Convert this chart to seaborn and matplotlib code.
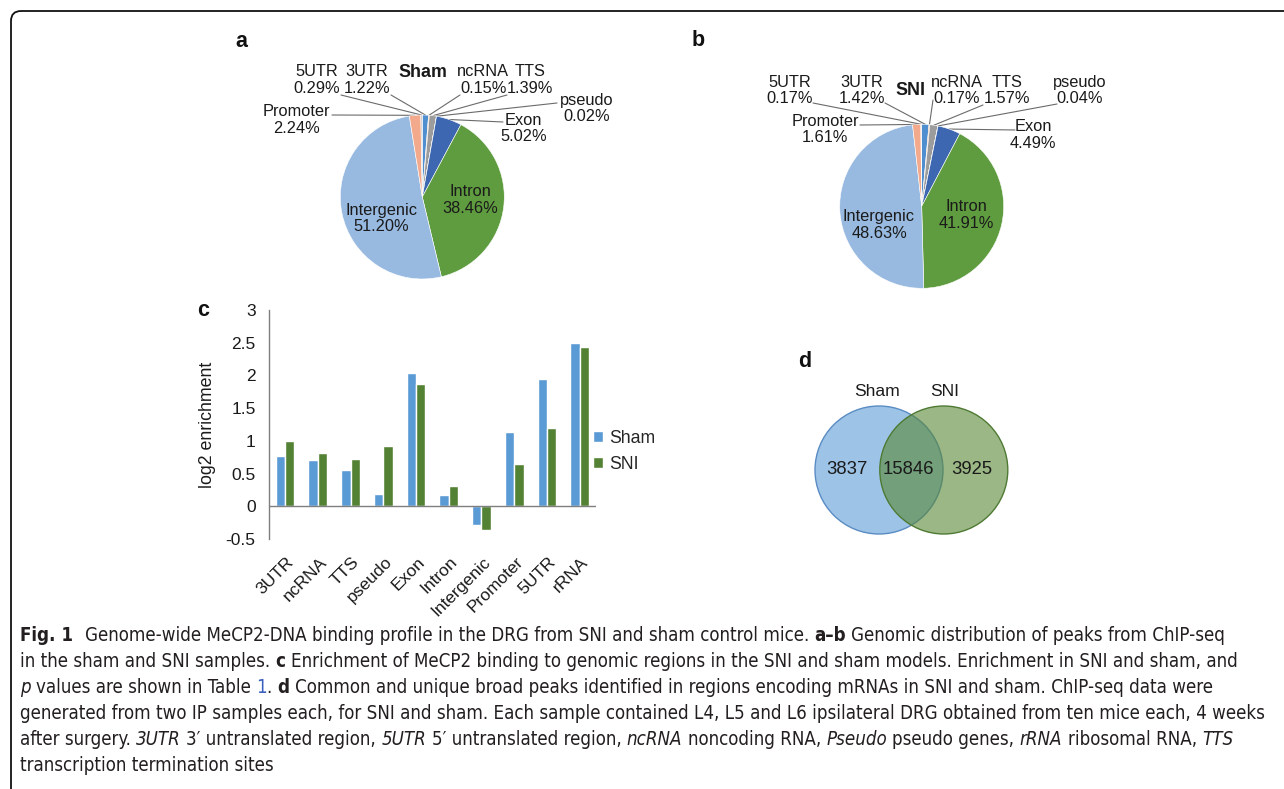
import numpy as np
import pandas as pd
import matplotlib
matplotlib.use("Agg")
import matplotlib.pyplot as plt
import matplotlib.transforms as mtransforms
from matplotlib.patches import Circle, FancyBboxPatch
from matplotlib.ticker import FuncFormatter
import seaborn as sns

W, H = 1284, 789

# ---- data ----
# pie slices, clockwise from 12 o'clock
pie_regions = ["3UTR", "ncRNA", "TTS", "pseudo", "Exon", "Intron", "Intergenic", "Promoter", "5UTR"]
sham_pct = [1.22, 0.15, 1.39, 0.02, 5.02, 38.46, 51.20, 2.24, 0.29]
sni_pct = [1.42, 0.17, 1.57, 0.04, 4.49, 41.91, 48.63, 1.61, 0.17]
pie_colors = ["#4f8fcf", "#ed7d31", "#9c9c9c", "#ffc000", "#3d67b1",
              "#5f9c3f", "#98bae0", "#f2a98c", "#c9c9c9"]

# log2 enrichment
bar_regions = ["3UTR", "ncRNA", "TTS", "pseudo", "Exon", "Intron",
               "Intergenic", "Promoter", "5UTR", "rRNA"]
sham_enrich = [0.77, 0.70, 0.55, 0.19, 2.04, 0.17, -0.28, 1.13, 1.95, 2.49]
sni_enrich = [1.00, 0.81, 0.72, 0.92, 1.87, 0.31, -0.37, 0.64, 1.19, 2.43]
groups = ["Sham", "SNI"]
bar_colors = ["#5b9bd5", "#548235"]

# venn: sham only, common, sni only
venn_counts = [3837, 15846, 3925]

sns.set_style("white")
plt.rcParams["font.family"] = ["Liberation Sans", "DejaVu Sans"]
txt_col = "#1a1a1a"

fig = plt.figure(figsize=(W / 100, H / 100), dpi=100)

# background axes in pixel units (frame, letters, venn, caption)
bg = fig.add_axes([0, 0, 1, 1])
bg.set_xlim(0, W)
bg.set_ylim(H, 0)
bg.axis("off")

bg.add_patch(FancyBboxPatch((11, 11), 1400, 900, boxstyle="round,pad=0,rounding_size=10",
                            fill=False, edgecolor="#111111", linewidth=1.3))

for letter, (lx, ly) in {"a": (241.7, 41.7), "b": (698.3, 40), "c": (203, 310),
                         "d": (805, 361.7)}.items():
    bg.text(lx, ly, letter, fontsize=15.5, fontweight="bold", ha="center", va="center", color="#111111")


# ---- pies ----
def draw_pie(values, cx, cy, r, title, title_xy, label_xy, leader_start):
    ax = fig.add_axes([(cx - r) / W, 1 - (cy + r) / H, 2 * r / W, 2 * r / H])
    wedges, _ = ax.pie(values, colors=pie_colors, startangle=90, counterclock=False,
                       radius=1, wedgeprops=dict(edgecolor="white", linewidth=0.4))
    ax.set_xlim(-1, 1)
    ax.set_ylim(-1, 1)
    ax.axis("off")

    def to_data(px, py):
        return (px - cx) / r, -(py - cy) / r

    for name, val, w in zip(pie_regions, values, wedges):
        tx, ty = to_data(*label_xy[name])
        ax.text(tx, ty, f"{name}\n{val:.2f}%", ha="center", va="center", fontsize=11.8,
                linespacing=1.12, color=txt_col, clip_on=False)
        if name in leader_start:
            th = np.deg2rad((w.theta1 + w.theta2) / 2)
            sx, sy = to_data(*leader_start[name])
            ax.plot([sx, np.cos(th)], [sy, np.sin(th)], color="#6b6b6b", lw=0.8,
                    clip_on=False, zorder=0)
    tx, ty = to_data(*title_xy)
    ax.text(tx, ty, title, ha="center", va="center", fontsize=12.9, fontweight="bold",
            color=txt_col, clip_on=False)


draw_pie(sham_pct, 422.3, 197, 82, "Sham", (423.3, 72.7),
         {"5UTR": (316.7, 80), "3UTR": (366.7, 80), "ncRNA": (483.3, 80), "TTS": (530, 80),
          "pseudo": (586.7, 108.3), "Promoter": (296.7, 120), "Exon": (523.3, 128.3),
          "Intron": (470, 200), "Intergenic": (381.7, 218.3)},
         {"5UTR": (341, 95), "3UTR": (391, 95), "Promoter": (332, 115), "ncRNA": (460, 95),
          "TTS": (507, 95), "pseudo": (557, 103), "Exon": (503, 122)})

draw_pie(sni_pct, 921.7, 206.3, 82, "SNI", (910, 90),
         {"5UTR": (789.3, 90.7), "3UTR": (861.7, 90.7), "ncRNA": (956.7, 90.7),
          "TTS": (1006.7, 90.7), "pseudo": (1080, 90.7), "Promoter": (825, 129.3),
          "Exon": (1033.3, 135), "Intron": (966, 215), "Intergenic": (879, 225)},
         {"5UTR": (813, 103), "3UTR": (885, 103), "Promoter": (860, 125), "ncRNA": (933, 100),
          "TTS": (983, 105), "pseudo": (1057, 104), "Exon": (1015, 130)})

# ---- bar chart ----
left, right, top, bottom = 268.7, 596, 310, 539
ax_c = fig.add_axes([left / W, 1 - bottom / H, (right - left) / W, (bottom - top) / H])
ax_c.patch.set_visible(False)
df = pd.DataFrame({"Region": bar_regions * 2,
                   "log2 enrichment": sham_enrich + sni_enrich,
                   "Group": [groups[0]] * len(bar_regions) + [groups[1]] * len(bar_regions)})
sns.barplot(data=df, x="Region", y="log2 enrichment", hue="Group", hue_order=groups,
            order=bar_regions, palette=bar_colors, width=0.57, saturation=1, ax=ax_c)
ax_c.set_xlim(-0.5, 9.5)
ax_c.set_ylim(-0.5, 3)
ax_c.set_yticks(np.arange(-0.5, 3.01, 0.5))
ax_c.yaxis.set_major_formatter(FuncFormatter(lambda v, p: f"{v:g}"))
for s in ["top", "right", "bottom"]:
    ax_c.spines[s].set_visible(False)
ax_c.spines["left"].set_color("#7f7f7f")
ax_c.spines["left"].set_linewidth(1)
ax_c.axhline(0, color="#7f7f7f", lw=1)
ax_c.tick_params(axis="y", length=4.5, width=1, color="#7f7f7f", labelsize=12.5, labelcolor=txt_col, pad=5)
ax_c.tick_params(axis="x", length=0, labelsize=12.5, labelcolor=txt_col, pad=11)
ax_c.set_xlabel("")
ax_c.set_ylabel("log2 enrichment", fontsize=12.8, color=txt_col)
ax_c.yaxis.set_label_coords((216 - left) / (right - left), (bottom - 425) / (bottom - top))
offset = mtransforms.ScaledTranslation(1 / 100, 0, fig.dpi_scale_trans)
for lab in ax_c.get_xticklabels():
    lab.set_rotation(45)
    lab.set_ha("right")
    lab.set_va("top")
    lab.set_rotation_mode("anchor")
    lab.set_transform(lab.get_transform() + offset)
ax_c.legend(loc="upper left", bbox_to_anchor=(593 / W, 1 - 430 / H), bbox_transform=fig.transFigure,
            frameon=False, fontsize=12.7, handlelength=0.55, handleheight=0.55, handletextpad=0.35,
            labelspacing=0.5, borderaxespad=0, borderpad=0)

# ---- venn ----
bg.add_patch(Circle((879, 470), 64, facecolor="#9dc3e6", edgecolor="#5a8cc4", lw=1))
bg.add_patch(Circle((943.8, 470), 64, facecolor="#588734", alpha=0.6, edgecolor="none"))
bg.add_patch(Circle((943.8, 470), 64, facecolor="none", edgecolor="#4e7a33", lw=1))
bg.text(876.7, 391.7, "Sham", fontsize=12.6, ha="center", va="center", color=txt_col)
bg.text(945, 391.7, "SNI", fontsize=12.6, ha="center", va="center", color=txt_col)
for (vx, cnt) in zip([846.7, 908, 971.7], venn_counts):
    bg.text(vx, 469, str(cnt), fontsize=13.3, ha="center", va="center", color=txt_col)

# ---- caption ----
caption = [
    [("Fig. 1  ", "b"), ("Genome-wide MeCP2-DNA binding profile in the DRG from SNI and sham control mice. ", "n"),
     ("a–b", "b"), (" Genomic distribution of peaks from ChIP-seq", "n")],
    [("in the sham and SNI samples. ", "n"), ("c", "b"),
     (" Enrichment of MeCP2 binding to genomic regions in the SNI and sham models. Enrichment in SNI and sham, and", "n")],
    [("p", "i"), (" values are shown in Table ", "n"), ("1", "l"), (". ", "n"), ("d", "b"),
     (" Common and unique broad peaks identified in regions encoding mRNAs in SNI and sham. ChIP-seq data were", "n")],
    [("generated from two IP samples each, for SNI and sham. Each sample contained L4, L5 and L6 ipsilateral DRG obtained from ten mice each, 4 weeks", "n")],
    [("after surgery. ", "n"), ("3UTR", "i"), (" 3′ untranslated region, ", "n"), ("5UTR", "i"),
     (" 5′ untranslated region, ", "n"), ("ncRNA", "i"), (" noncoding RNA, ", "n"), ("Pseudo", "i"),
     (" pseudo genes, ", "n"), ("rRNA", "i"), (" ribosomal RNA, ", "n"), ("TTS", "i")],
    [("transcription termination sites", "n")],
]
cap_family = ["Liberation Sans Narrow", "DejaVu Sans"]
renderer = fig.canvas.get_renderer()


def style_kw(st, size):
    kw = dict(fontsize=size, family=cap_family, fontstretch="condensed", color="#231f20")
    if st == "b":
        kw["fontweight"] = "bold"
    elif st == "i":
        kw["fontstyle"] = "italic"
    elif st == "l":
        kw["color"] = "#3b5fc0"
    return kw


def measure(s, kw):
    t = bg.text(0, 0, "|" + s + "|", **kw)
    w1 = t.get_window_extent(renderer).width
    t.remove()
    t = bg.text(0, 0, "||", **kw)
    w2 = t.get_window_extent(renderer).width
    t.remove()
    return w1 - w2


widest = max(sum(measure(s, style_kw(st, 10)) for s, st in runs) for runs in caption)
cap_size = 10 * 1248 / widest

for i, runs in enumerate(caption):
    x = 20
    y = 641 + 26 * i
    for s, st in runs:
        kw = style_kw(st, cap_size)
        lead = len(s) - len(s.lstrip(" "))
        if lead:
            x += measure(" " * lead, kw)
        bg.text(x, y, s.lstrip(" "), ha="left", va="baseline", **kw)
        x += measure(s.lstrip(" "), kw)

fig.savefig("out.png", dpi=100)
